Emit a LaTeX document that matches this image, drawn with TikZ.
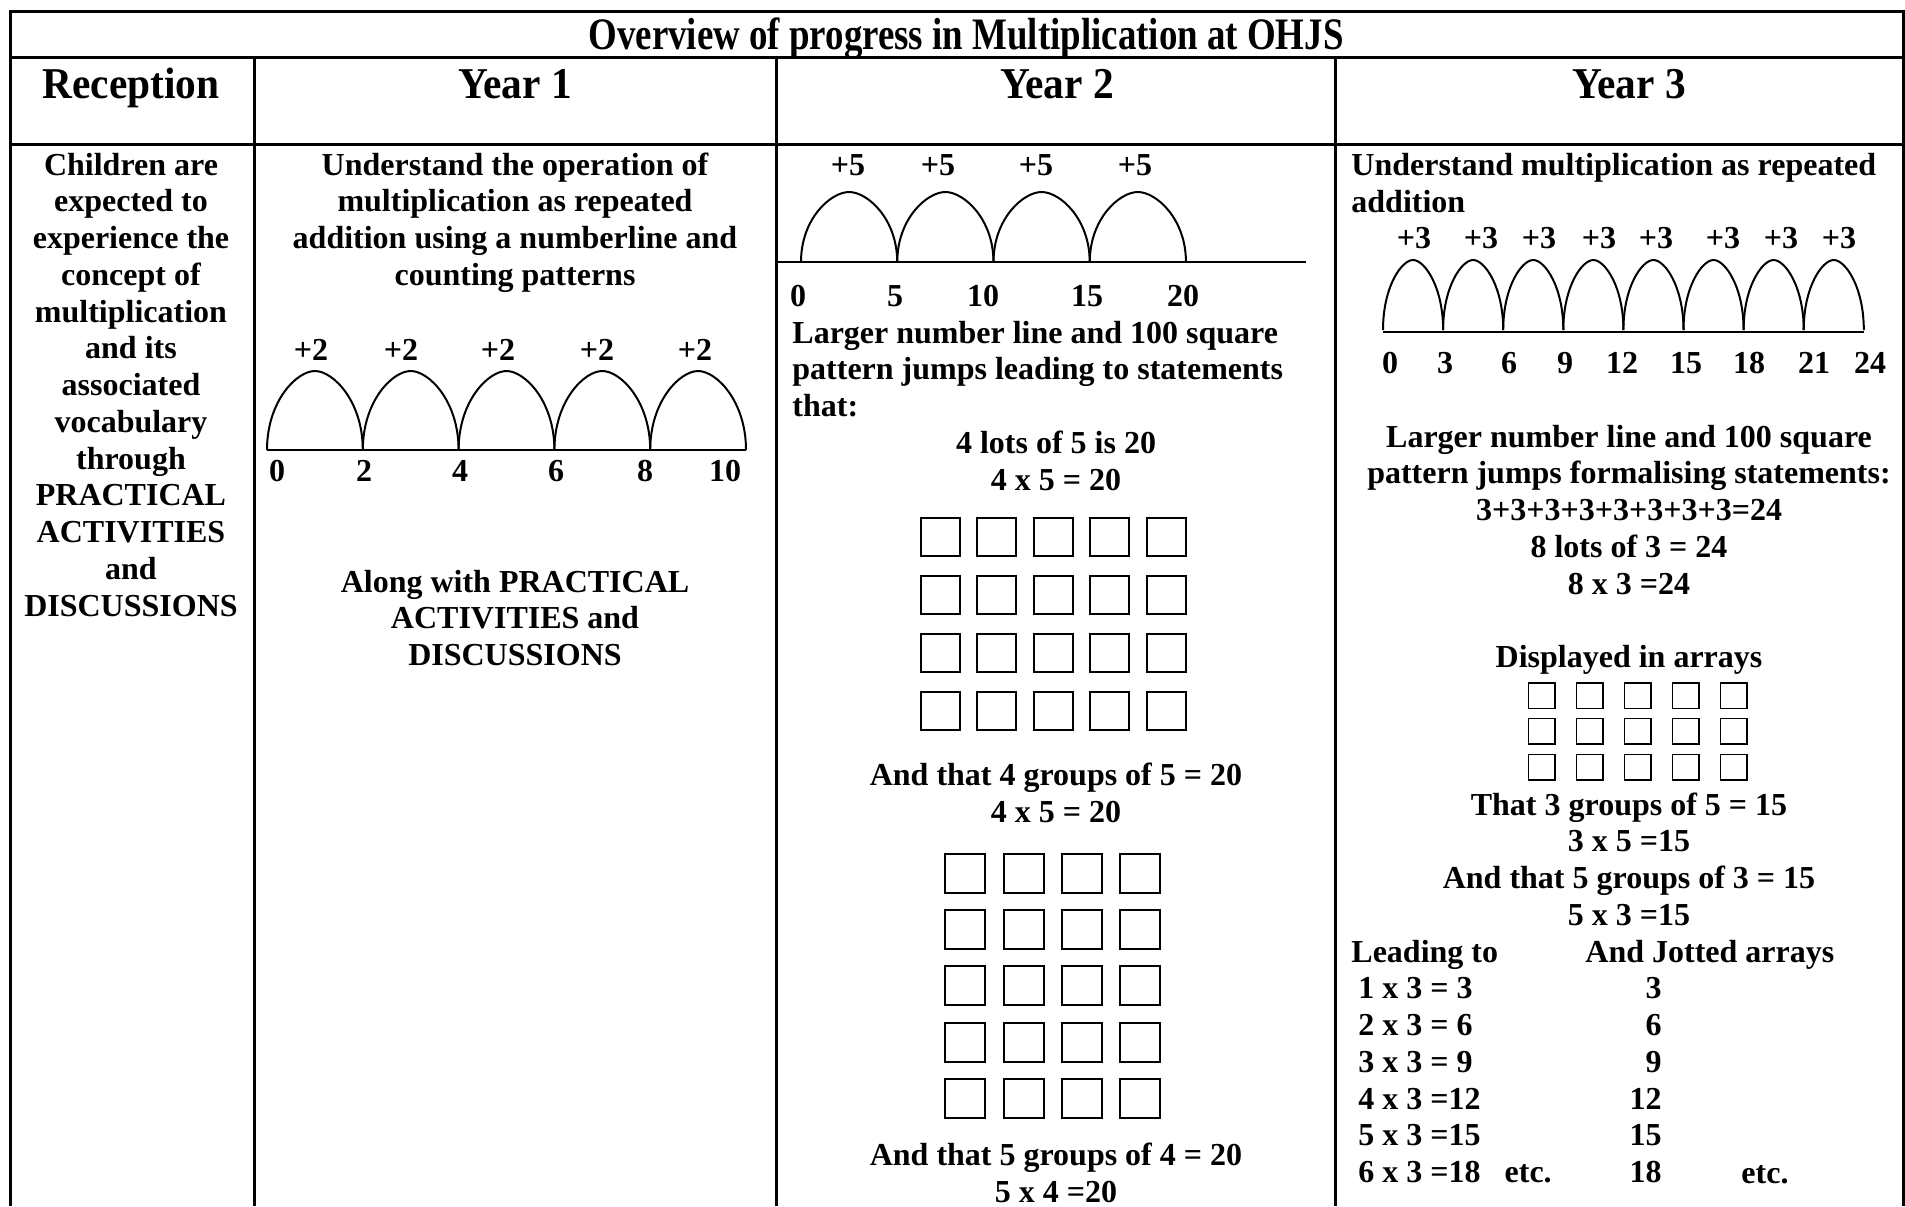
\documentclass[tikz,border=0pt]{standalone}
\usepackage{fontspec}
\setmainfont{Liberation Serif}
\usepackage{graphicx}
\newcommand\bodyfnt{\fontsize{16}{18.4}\selectfont\bfseries}
\newcommand\headfnt{\fontsize{22}{26}\selectfont\bfseries}
\newcommand\titlefnt{\fontsize{22.5}{27}\selectfont\bfseries}
% one jump of a number line: start x, half width, base y, height
\newcommand\jumparc[4]{%
  \draw[nline] (#1,#3) .. controls (#1,{#3-0.62*#4}) and ({#1+0.62*#2},{#3-#4}) .. ({#1+#2},{#3-#4})
    .. controls ({#1+1.38*#2},{#3-#4}) and ({#1+2*#2},{#3-0.62*#4}) .. ({#1+2*#2},#3);}
\begin{document}
\begin{tikzpicture}[x=0.5pt,y=-0.5pt,
  txt/.style={font=\bodyfnt, inner sep=0pt, anchor=base},
  txtl/.style={txt, anchor=base west},
  txtr/.style={txt, anchor=base east},
  head/.style={font=\headfnt, inner sep=0pt, anchor=base},
  rule/.style={line width=1.5pt, line join=miter},
  nline/.style={line width=1pt},
  cell/.style={line width=1pt},
  smallcell/.style={line width=0.8pt}]
\useasboundingbox (0,0) rectangle (1905,1206);
% ---------- table rules
\draw[rule] (10,1206) -- (10,11) -- (1903,11) -- (1903,1206);
\draw[rule] (10,57) -- (1903,57);
\draw[rule] (10,144) -- (1903,144);
\foreach \x in {254.7,776.7,1335.7} \draw[rule] (\x,57) -- (\x,1206);
% ---------- title and headers
\node[font=\titlefnt, inner sep=0pt, anchor=base] (title) at (966,49) {\scalebox{0.82}[1]{Overview of progress in Multiplication at OHJS}};
\node[head] (hrec) at (131,98) {\scalebox{0.94}[1]{Reception}};
\node[head] (hy1) at (515,98) {\scalebox{0.94}[1]{Year 1}};
\node[head] (hy2) at (1057,98) {\scalebox{0.94}[1]{Year 2}};
\node[head] (hy3) at (1629,98) {\scalebox{0.94}[1]{Year 3}};
% ---------- Reception
\foreach \t [count=\i from 0] in {Children are,expected to,experience the,concept of,multiplication,and its,associated,vocabulary,through,PRACTICAL,ACTIVITIES,and,DISCUSSIONS}
  \node[txt] (rec\i) at (131,{175+36.75*\i}) {\t};
% ---------- Year 1
\foreach \t [count=\i from 0] in {Understand the operation of,multiplication as repeated,addition using a numberline and,counting patterns}
  \node[txt] (ya\i) at (515,{175+36.75*\i}) {\t};
\foreach \i in {0,...,4}
  {\pgfmathsetmacro\xa{267+95.8*\i}\jumparc{\xa}{47.9}{450}{79}}
\draw[nline] (267,450) -- (746,450);
\foreach \x [count=\i] in {311,401,498,597,695}
  \node[txt] (yap\i) at (\x,360) {+2};
\foreach \x/\n [count=\i] in {277/0,364/2,460/4,556/6,645/8,725/10}
  \node[txt] (yan\i) at (\x,481) {\n};
\foreach \t [count=\i from 0] in {Along with PRACTICAL,ACTIVITIES and,DISCUSSIONS}
  \node[txt] (yb\i) at (515,{592+36.75*\i}) {\t};
% ---------- Year 2
\foreach \i in {0,...,3}
  {\pgfmathsetmacro\xa{801+96.25*\i}\jumparc{\xa}{48.1}{262}{70}}
\draw[nline] (776.7,262) -- (1306,262);
\foreach \x [count=\i] in {848,938,1036,1135}
  \node[txt] (ybp\i) at (\x,175) {+5};
\foreach \x/\n [count=\i] in {798/0,895/5,983/10,1087/15,1183/20}
  \node[txt] (ybn\i) at (\x,306) {\n};
\foreach \t [count=\i from 0] in {Larger number line and 100 square,pattern jumps leading to statements,that:}
  \node[txtl] (yc\i) at (792,{343+36.75*\i}) {\t};
\node[txt] (yd0) at (1056,453) {4 lots of 5 is 20};
\node[txt] (yd1) at (1056,490) {4 x 5 = 20};
\foreach \i in {0,...,4} \foreach \j in {0,...,3}
  \draw[cell] ({920.9+56.5*\i},{517.5+58.3*\j}) rectangle ++(39,38);
\node[txt] (ye0) at (1056,785) {And that 4 groups of 5 = 20};
\node[txt] (ye1) at (1056,822) {4 x 5 = 20};
\foreach \i in {0,...,3} \foreach \j in {0,...,4}
  \draw[cell] ({945.2+58.3*\i},{854+56.2*\j}) rectangle ++(40,39);
\node[txt] (yf0) at (1056,1165) {And that 5 groups of 4 = 20};
\node[txt] (yf1) at (1056,1202) {5 x 4 =20};
% ---------- Year 3
\node[txtl] (yg0) at (1351,175) {Understand multiplication as repeated};
\node[txtl] (yg1) at (1351,212) {addition};
\foreach \i in {0,...,7}
  {\pgfmathsetmacro\xa{1383+60.1*\i}\jumparc{\xa}{30.05}{330}{70}}
\draw[nline] (1383,332) -- (1864,332);
\foreach \x [count=\i] in {1414,1481,1539,1599,1656,1723,1781,1839}
  \node[txt] (ygp\i) at (\x,248) {+3};
\foreach \x/\n [count=\i] in {1390/0,1445/3,1509/6,1565/9,1622/12,1686/15,1749/18,1814/21,1870/24}
  \node[txt] (ygn\i) at (\x,373) {\n};
\foreach \t [count=\i from 0] in {Larger number line and 100 square,pattern jumps formalising statements:,3+3+3+3+3+3+3+3=24,8 lots of 3 = 24,8 x 3 =24}
  \node[txt] (yh\i) at (1629,{447+36.75*\i}) {\t};
\node[txt] (yi0) at (1629,667) {Displayed in arrays};
\foreach \i in {0,...,4} \foreach \j in {0,...,2}
  \draw[smallcell] ({1528.3+48*\i},{682.8+35.8*\j}) rectangle ++(26.7,25.5);
\foreach \t [count=\i from 0] in {That 3 groups of 5 = 15,3 x 5 =15,And that 5 groups of 3 = 15,5 x 3 =15}
  \node[txt] (yj\i) at (1629,{815+36.75*\i}) {\t};
\node[txtl] (yk0) at (1351,962) {Leading to};
\node[txtl] (yk1) at (1585,962) {And Jotted arrays};
\foreach \a/\b [count=\i from 1] in {1 x 3 = 3/3,2 x 3 = 6/6,3 x 3 = 9/9,4 x 3 =12/12,5 x 3 =15/15,6 x 3 =18\hspace{0.5em} etc./18}
  {\node[txtl] (ym\i) at (1358,{962+36.75*\i}) {\a};
   \node[txtr] (yn\i) at (1662,{962+36.75*\i}) {\b};}
\node[txt] (yetc) at (1765,1183) {etc.};
\end{tikzpicture}
\end{document}
